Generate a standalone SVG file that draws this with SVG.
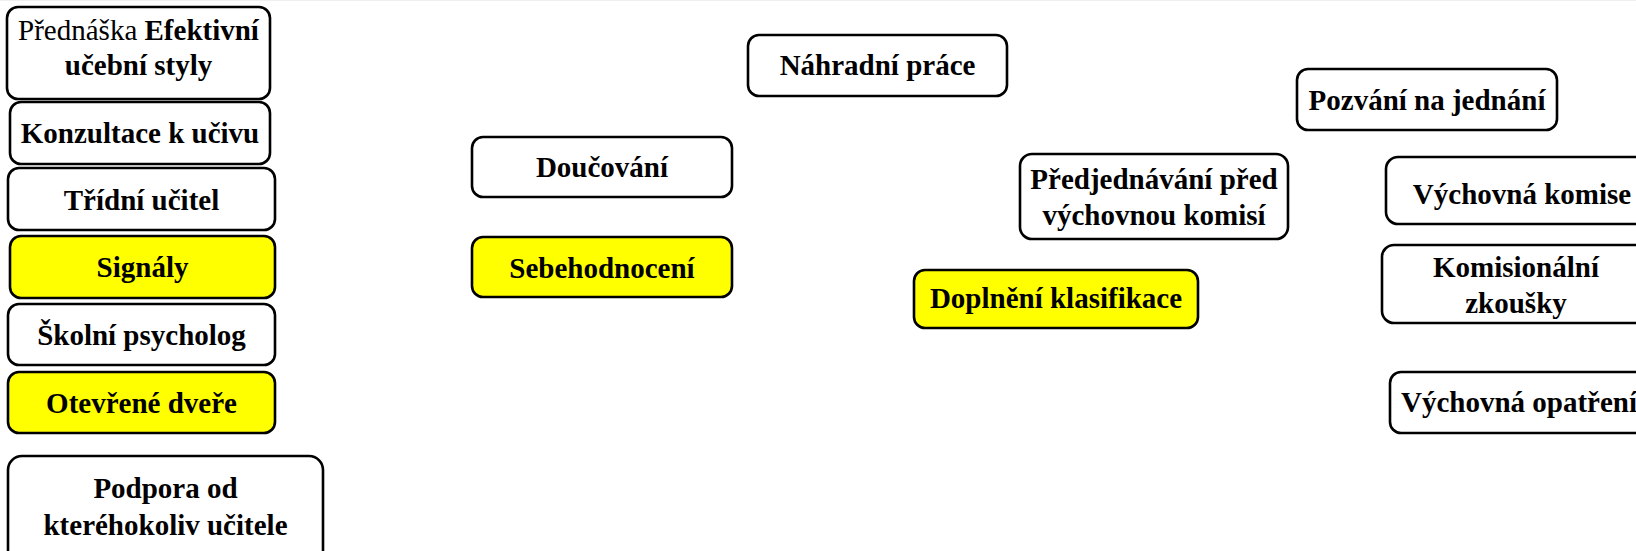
<svg xmlns="http://www.w3.org/2000/svg" width="1636" height="551" viewBox="0 0 1636 551">
<style>
.box{fill:#ffffff;stroke:#000000;stroke-width:2.6}
.hl{fill:#ffff00;stroke:#000000;stroke-width:2.6}
.t{font-family:"Liberation Serif","Times New Roman",serif;font-size:29px;font-weight:bold;fill:#000000;text-anchor:middle}
.reg{font-weight:normal}
</style>
<rect x="0" y="0" width="1636" height="551" fill="#ffffff"/>
<rect x="0" y="0" width="1636" height="1" fill="#efefef"/>
<g id="connectors"></g>
<g id="prednaska">
<rect class="box" x="7" y="7" width="263" height="92" rx="11"/>
<text class="t" x="138.5" y="40"><tspan class="reg">Přednáška </tspan>Efektivní</text>
<text class="t" x="138.5" y="75">učební styly</text>
</g>
<g id="konzultace">
<rect class="box" x="10" y="102" width="260" height="62" rx="11"/>
<text class="t" x="140" y="143">Konzultace k učivu</text>
</g>
<g id="tridni-ucitel">
<rect class="box" x="8" y="168" width="267" height="62" rx="11"/>
<text class="t" x="141.5" y="210">Třídní učitel</text>
</g>
<g id="signaly">
<rect class="hl" x="10" y="236" width="265" height="62" rx="11"/>
<text class="t" x="142.5" y="277">Signály</text>
</g>
<g id="skolni-psycholog">
<rect class="box" x="8" y="304" width="267" height="61" rx="11"/>
<text class="t" x="141.5" y="345">Školní psycholog</text>
</g>
<g id="otevrene-dvere">
<rect class="hl" x="8" y="372" width="267" height="61" rx="11"/>
<text class="t" x="141.5" y="413">Otevřené dveře</text>
</g>
<g id="podpora">
<rect class="box" x="8" y="456" width="315" height="110" rx="14"/>
<text class="t" x="165.5" y="498">Podpora od</text>
<text class="t" x="165.5" y="535">kteréhokoliv učitele</text>
</g>
<g id="nahradni-prace">
<rect class="box" x="748" y="35" width="259" height="61" rx="11"/>
<text class="t" x="877.5" y="75">Náhradní práce</text>
</g>
<g id="doucovani">
<rect class="box" x="472" y="137" width="260" height="60" rx="11"/>
<text class="t" x="602" y="177">Doučování</text>
</g>
<g id="sebehodnoceni">
<rect class="hl" x="472" y="237" width="260" height="60" rx="11"/>
<text class="t" x="602" y="278">Sebehodnocení</text>
</g>
<g id="predjednavani">
<rect class="box" x="1020" y="154" width="268" height="85" rx="12"/>
<text class="t" x="1154" y="189">Předjednávání před</text>
<text class="t" x="1154" y="225">výchovnou komisí</text>
</g>
<g id="doplneni-klasifikace">
<rect class="hl" x="914" y="270" width="284" height="58" rx="11"/>
<text class="t" x="1056" y="308">Doplnění klasifikace</text>
</g>
<g id="pozvani">
<rect class="box" x="1297" y="69" width="260" height="61" rx="11"/>
<text class="t" x="1427" y="110">Pozvání na jednání</text>
</g>
<g id="vychovna-komise">
<rect class="box" x="1386" y="157" width="272" height="67" rx="12"/>
<text class="t" x="1522" y="204">Výchovná komise</text>
</g>
<g id="komisionalni-zkousky">
<rect class="box" x="1382" y="245" width="268" height="78" rx="12"/>
<text class="t" x="1516" y="277">Komisionální</text>
<text class="t" x="1516" y="313">zkoušky</text>
</g>
<g id="vychovna-opatreni">
<rect class="box" x="1390" y="372" width="258" height="61" rx="11"/>
<text class="t" x="1519" y="412">Výchovná opatření</text>
</g>
</svg>
